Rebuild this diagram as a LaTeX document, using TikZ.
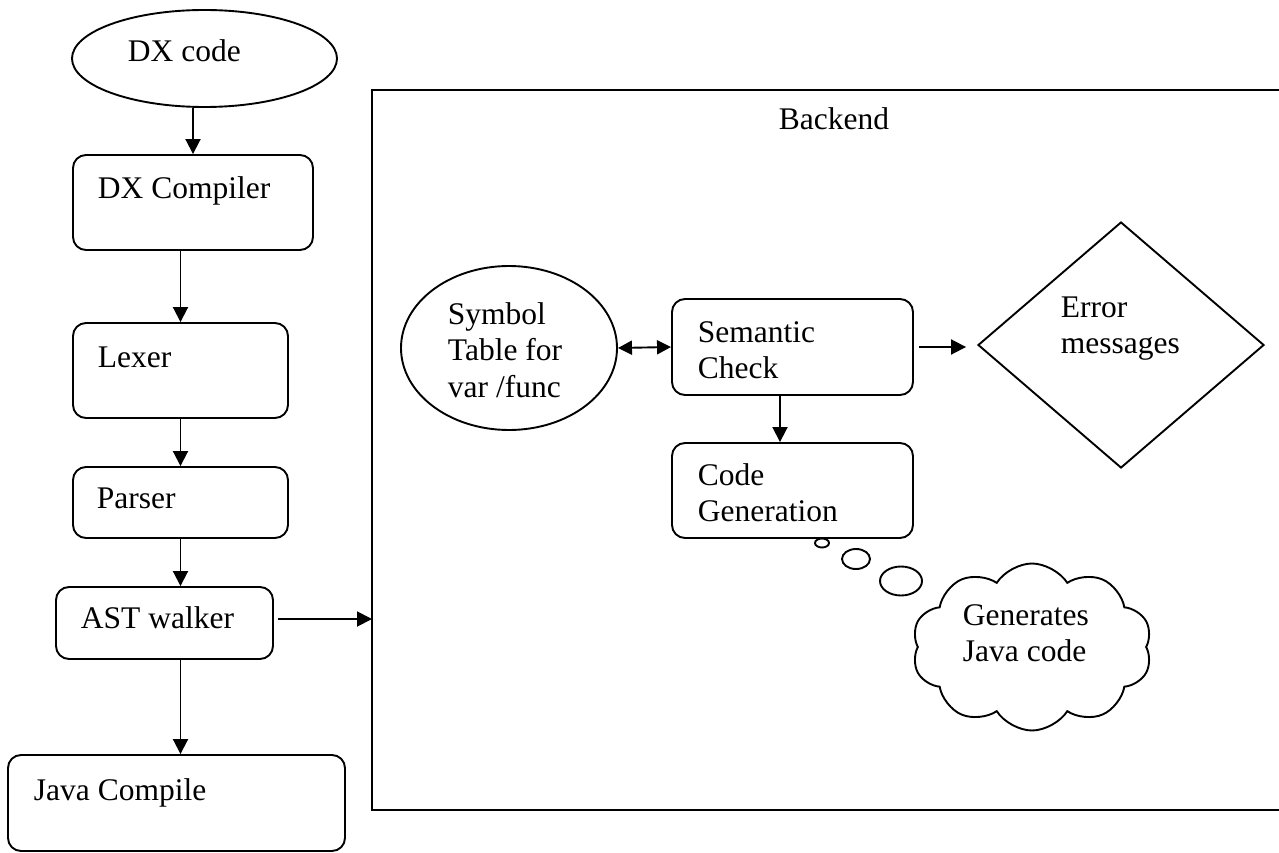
\documentclass[tikz,border=0pt]{standalone}
\usepackage{fontspec}
\setmainfont{Liberation Serif}
\usetikzlibrary{shapes.geometric,shapes.symbols,arrows.meta}
\newcommand\mlines[1]{\begin{tabular}[t]{@{}l@{}}#1\end{tabular}}
\begin{document}
\begin{tikzpicture}[x=1pt,y=-1pt,
  line width=1.9pt,
  every node/.style={font=\fontsize{31.5}{36.8}\selectfont},
  rbox/.style={draw, rounded corners=13pt, inner sep=0pt, fill=white},
  txt/.style={anchor=base west, inner sep=0pt},
  arr/.style={-{Triangle[length=15pt,width=15pt]}},
  darr/.style={{Triangle[length=14pt,width=14pt]}-{Triangle[length=14pt,width=14pt]}},
  bub/.style={draw, ellipse, inner sep=0pt}
]
\useasboundingbox (0,0) rectangle (1279,853);

% thought bubbles (behind the code box)
\node[bub, minimum width=14pt, minimum height=9pt] (b1) at (822,543) {};
\node[bub, minimum width=28pt, minimum height=20pt] (b2) at (856,559) {};
\node[bub, minimum width=42pt, minimum height=29pt] (b3) at (901,581) {};

% left column
\node[draw, ellipse, inner sep=0pt, minimum width=265pt, minimum height=97pt] (dx) at (204.5,58.5) {};
\node[txt] (dxt) at (127,62) {DX code};

\node[rbox, minimum width=240pt, minimum height=95pt] (dxc) at (193,202.5) {};
\node[txt] (dxct) at (97,199) {DX Compiler};

\node[rbox, minimum width=215pt, minimum height=95pt] (lex) at (180.5,370.5) {};
\node[txt] (lext) at (97,367) {Lexer};

\node[rbox, minimum width=215pt, minimum height=71pt] (par) at (180.5,502.5) {};
\node[txt] (part) at (96,508) {Parser};

\node[rbox, minimum width=217pt, minimum height=72pt] (ast) at (164.5,623) {};
\node[txt] (astt) at (80,628) {AST walker};

\node[rbox, minimum width=337pt, minimum height=96pt] (java) at (176.5,803) {};
\node[txt] (javat) at (33,800) {Java Compile};

% backend frame (runs off the right edge)
\draw[line width=2.1pt] (1295,90) -- (372,90) -- (372,810) -- (1295,810);
\coordinate (bk) at (372,619);
\node[txt] (bkt) at (778,130) {Backend};

% backend contents
\node[draw, ellipse, inner sep=0pt, minimum width=216pt, minimum height=164pt] (sym) at (509,348) {};
\node[txt] (symt) at (447,324) {\mlines{Symbol\\Table for\\var /func}};

\node[rbox, minimum width=241pt, minimum height=96pt] (sem) at (792.5,347) {};
\node[txt] (semt) at (697,342) {\mlines{Semantic\\Check}};

\node[rbox, minimum width=241pt, minimum height=95pt] (code) at (792.5,490.5) {};
\node[txt] (codet) at (697,485) {\mlines{Code\\Generation}};

\node[draw, diamond, inner sep=0pt, minimum width=286pt, minimum height=246pt] (err) at (1121,345) {};
\node[txt] (errt) at (1060,317) {\mlines{Error\\messages}};

\node[draw, cloud, cloud puffs=10, cloud puff arc=115, cloud ignores aspect,
      inner sep=0pt, minimum width=240pt, minimum height=167pt] (cl) at (1032,647) {};
\node[txt] (clt) at (962,625) {\mlines{Generates\\Java code}};

% connectors
\draw[arr] (dxc.north |- dx.south) -- (dxc.north);
\draw[arr] (dxc.south -| lex.north) -- (lex.north);
\draw[arr] (lex.south) -- (par.north);
\draw[arr] (par.south) -- (par.south |- ast.north);
\draw[arr] (ast.south -| par.south) -- (java.north -| par.south);
\draw[arr, shorten <=4pt] (ast.east |- bk) -- (bk);
\draw[darr] (sym.east) -- (sem.west);
\draw[arr] ([xshift=-12.5pt]sem.south) -- ([xshift=-12.5pt]code.north);
\draw[arr, shorten <=5pt, shorten >=11pt] (sem.east) -- (sem.east -| err.west);
\end{tikzpicture}
\end{document}
